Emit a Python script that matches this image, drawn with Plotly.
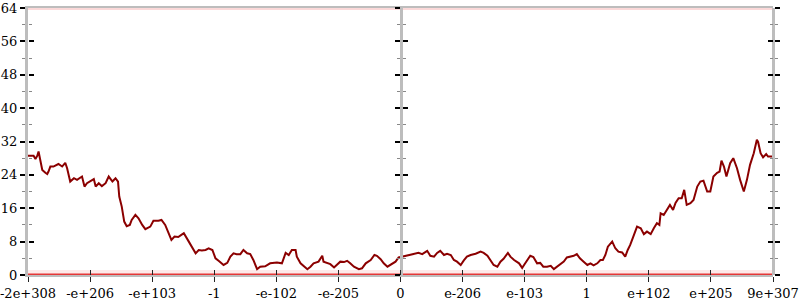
import plotly.graph_objects as go

# ---- data ----
x_vals = [-6.0, -5.91, -5.88, -5.85, -5.83, -5.80, -5.77, -5.72, -5.69, -5.67, -5.64, -5.59, -5.53, -5.51,
          -5.45, -5.40, -5.37, -5.32, -5.26, -5.21, -5.13, -5.09, -5.05, -5.00, -4.94, -4.91, -4.86, -4.81,
          -4.75, -4.70, -4.64, -4.59, -4.55, -4.53, -4.49, -4.45, -4.41, -4.36, -4.33, -4.27, -4.22, -4.16,
          -4.11, -4.03, -3.98, -3.90, -3.85, -3.79, -3.74, -3.69, -3.64, -3.58, -3.53, -3.49, -3.41, -3.36,
          -3.30, -3.25, -3.20, -3.14, -3.09, -3.03, -2.98, -2.93, -2.85, -2.79, -2.74, -2.69, -2.64, -2.58,
          -2.53, -2.47, -2.42, -2.37, -2.31, -2.26, -2.18, -2.10, -2.05,
          -1.99, -1.91, -1.85, -1.80, -1.75, -1.69, -1.67, -1.61, -1.56, -1.50, -1.45, -1.40, -1.32, -1.26,
          -1.24, -1.18, -1.13, -1.07, -1.02, -0.97, -0.91, -0.86, -0.81, -0.75, -0.67, -0.62, -0.56, -0.48,
          -0.42, -0.38, -0.32, -0.27, -0.21, -0.16, -0.08, -0.03, 0.03, 0.08, 0.16, 0.21, 0.29, 0.35, 0.43,
          0.48, 0.54, 0.59, 0.64, 0.70, 0.75, 0.81, 0.86, 0.91, 0.97, 1.02, 1.07, 1.13, 1.21, 1.29, 1.34,
          1.40, 1.45, 1.50, 1.56, 1.61, 1.66, 1.73, 1.77, 1.83, 1.91, 1.96,
          1.99, 2.04, 2.09, 2.14, 2.20, 2.25, 2.30, 2.36, 2.42, 2.47, 2.52, 2.58, 2.63, 2.68, 2.74, 2.79,
          2.84, 2.89, 2.95, 3.01, 3.06, 3.11, 3.17, 3.22, 3.26, 3.30, 3.34, 3.38, 3.41, 3.46, 3.51, 3.57,
          3.62, 3.66, 3.70, 3.75, 3.81, 3.87, 3.92, 3.97, 4.03, 4.08, 4.13, 4.17, 4.19, 4.24, 4.29, 4.34,
          4.39, 4.43, 4.48, 4.53, 4.57, 4.61, 4.67, 4.72, 4.78, 4.83, 4.88, 4.94, 4.99, 5.04, 5.10, 5.14,
          5.17, 5.21, 5.25, 5.31, 5.36, 5.42, 5.47, 5.53, 5.58, 5.63, 5.69, 5.74, 5.76, 5.80, 5.84, 5.89,
          5.92, 6.0]
y_vals = [28.6, 28.6, 27.8, 28.6, 29.6, 27.6, 25.2, 24.5, 24.2, 24.8, 26.0, 26.0, 26.4, 26.6,
          26.0, 26.9, 25.6, 22.4, 23.2, 22.8, 23.6, 21.2, 22.0, 22.4, 23.0, 21.2, 22.0, 21.3,
          22.0, 23.6, 22.4, 23.2, 22.4, 18.8, 16.4, 12.8, 11.7, 12.0, 13.2, 14.4, 13.6, 12.0,
          11.0, 11.6, 13.0, 13.0, 13.2, 12.0, 10.0, 8.4, 9.2, 9.1, 9.6, 10.0, 8.0, 6.8,
          5.2, 6.0, 5.9, 6.0, 6.4, 6.0, 4.0, 3.4, 2.4, 2.9, 4.4, 5.2, 5.0, 5.0,
          6.0, 5.2, 5.0, 3.6, 1.4, 2.0, 2.1, 2.8, 2.9,
          3.0, 2.8, 5.3, 4.8, 6.0, 6.0, 4.4, 2.8, 2.2, 1.4, 2.0, 2.8, 3.2, 4.6,
          3.2, 2.8, 2.6, 1.8, 2.4, 3.2, 3.1, 3.4, 2.8, 2.0, 1.4, 1.6, 2.8, 3.6,
          4.8, 4.6, 3.8, 2.8, 2.0, 2.4, 3.2, 4.2, 4.4, 4.6, 4.8, 5.0, 5.3, 5.0, 5.8,
          4.6, 4.4, 5.3, 5.8, 4.8, 5.1, 4.8, 3.6, 3.2, 2.4, 3.5, 4.4, 4.8, 5.1, 5.6, 5.3,
          4.6, 3.6, 2.4, 2.0, 3.2, 3.9, 5.3, 4.4, 3.6, 2.8, 1.7,
          2.4, 3.6, 4.6, 4.3, 2.8, 2.9, 2.0, 2.0, 2.2, 1.4, 2.0, 2.6, 3.2, 4.2, 4.4, 4.6,
          5.0, 4.0, 3.2, 2.4, 2.8, 2.3, 2.8, 3.6, 3.6, 4.8, 6.8, 7.6, 8.0, 6.4, 5.6, 5.4,
          4.4, 6.0, 7.2, 9.2, 11.6, 11.2, 9.8, 10.4, 9.8, 11.2, 12.4, 12.0, 14.8, 14.4, 15.6, 16.8,
          15.6, 17.3, 18.4, 18.4, 20.4, 16.8, 17.2, 18.0, 21.2, 22.4, 22.6, 20.0, 20.0, 23.6, 24.5, 24.8,
          27.4, 26.0, 23.6, 26.8, 28.0, 25.6, 22.8, 20.0, 22.8, 26.4, 29.2, 32.4, 31.9, 29.2, 28.2, 29.0,
          28.4, 28.4]

x_ticks = [-6, -5, -4, -3, -2, -1, 0, 1, 2, 3, 4, 5, 6]
x_labels = ["-2e+308", "-e+206", "-e+103", "-1", "-e-102", "-e-205", "0",
            "e-206", "e-103", "1", "e+102", "e+205", "9e+307"]
y_ticks = [0, 8, 16, 24, 32, 40, 48, 56, 64]
band_x = [-6, 6]
band_low = [0, 0]
band_high = [64, 64]

X_RANGE = [-6, 6]
Y_RANGE = [0, 64]
FONT = "DejaVu Serif"
AXIS_GREY = "#bdbdbd"

fig = go.Figure()

# faint bands of points at the extremes
fig.add_trace(go.Scatter(x=band_x, y=band_low, mode="lines",
                         line=dict(color="rgba(245,120,120,0.16)", width=10),
                         hoverinfo="skip", showlegend=False, cliponaxis=False))
fig.add_trace(go.Scatter(x=band_x, y=band_low, mode="lines",
                         line=dict(color="rgba(225,35,35,0.9)", width=3),
                         hoverinfo="skip", showlegend=False, cliponaxis=False))
fig.add_trace(go.Scatter(x=band_x, y=band_high, mode="lines",
                         line=dict(color="rgba(235,80,80,0.22)", width=4),
                         hoverinfo="skip", showlegend=False, cliponaxis=False))

fig.add_trace(go.Scatter(x=x_vals, y=y_vals, mode="lines",
                         line=dict(color="#8b0000", width=2),
                         showlegend=False))


def yax(position, ticks, side="left", labels=False, overlay=True, line=True):
    d = dict(range=Y_RANGE, tickvals=y_ticks, ticks=ticks, ticklen=5, tickwidth=1.5,
             tickcolor="black", showgrid=False, zeroline=False, automargin=False,
             showline=line, linecolor=AXIS_GREY, linewidth=3,
             showticklabels=labels, side=side,
             minor=dict(dtick=4, ticklen=3, tickcolor="#888888", tickwidth=1.2, ticks=ticks),
             tickfont=dict(family=FONT, size=13, color="black"),
             anchor="free", position=position, layer="above traces")
    if overlay:
        d["overlaying"] = "y"
    return d


fig.update_layout(
    width=800, height=300,
    margin=dict(l=28, r=27, t=8, b=25, autoexpand=False),
    paper_bgcolor="white", plot_bgcolor="white",
    xaxis=dict(range=X_RANGE, tickvals=x_ticks, ticktext=x_labels, ticks="outside",
               ticklen=5, tickwidth=1.3, tickcolor="#222222", showgrid=False, zeroline=False,
               showline=True, linecolor=AXIS_GREY, linewidth=2, mirror=True, automargin=False,
               ticklabeloverflow="allow",
               tickfont=dict(family=FONT, size=13, color="black"), layer="below traces"),
    xaxis2=dict(range=X_RANGE, tickvals=x_ticks, ticks="inside", ticklen=5, tickwidth=1.3,
                tickcolor="#222222", showgrid=False, zeroline=False, showline=False,
                automargin=False, showticklabels=False, overlaying="x", anchor="y", side="bottom"),
    yaxis=dict(range=Y_RANGE, tickvals=y_ticks, ticks="outside", ticklen=5, tickwidth=1.5,
               tickcolor="black", showgrid=False, zeroline=False, automargin=False,
               showline=True, linecolor=AXIS_GREY, linewidth=3, ticklabeloverflow="allow",
               minor=dict(dtick=4, ticklen=3, tickcolor="#888888", tickwidth=1.2, ticks="outside"),
               tickfont=dict(family=FONT, size=13, color="black"), layer="above traces"),
    yaxis2=yax(0, "inside", line=False),
    yaxis3=yax(1, "outside", side="right"),
    yaxis4=yax(1, "inside", side="right", line=False),
    yaxis5=yax(0.5, "outside"),
    yaxis6=yax(0.5, "inside"),
    font=dict(family=FONT),
)

# invisible traces so overlay axes are drawn
for ax in ["y2", "y3", "y4", "y5", "y6"]:
    fig.add_trace(go.Scatter(x=[X_RANGE[0]], y=[Y_RANGE[0]], yaxis=ax, mode="markers",
                             marker=dict(opacity=0), hoverinfo="skip", showlegend=False))
fig.add_trace(go.Scatter(x=[X_RANGE[0]], y=[Y_RANGE[0]], xaxis="x2", mode="markers",
                         marker=dict(opacity=0), hoverinfo="skip", showlegend=False))

fig.write_html("out.html")
